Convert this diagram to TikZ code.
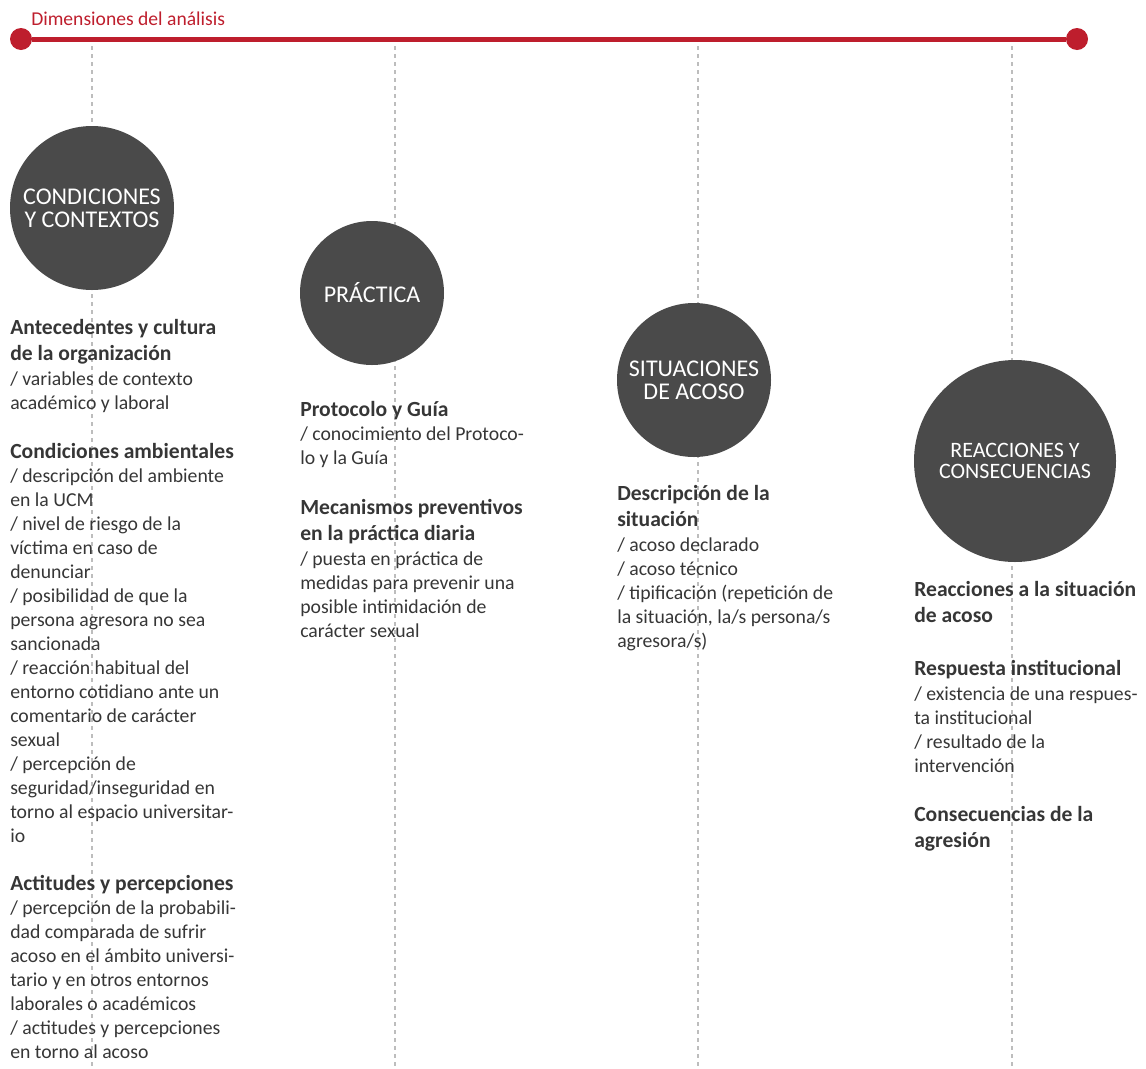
\documentclass[tikz,border=0pt]{standalone}
\usepackage{fontspec}
\setmainfont{Carlito}
\definecolor{acosored}{HTML}{BE1E2D}
\definecolor{circgray}{HTML}{4A4A4A}
\definecolor{bodytext}{HTML}{363636}
\definecolor{guidegray}{HTML}{BDBDBD}
\newcommand{\head}[1]{{\fontsize{16.2}{18}\selectfont\bfseries #1}}
\begin{document}
\begin{tikzpicture}[x=0.75pt, y=-0.75pt, font=\fontsize{14.8}{18}\selectfont,
    guide/.style={dash pattern=on 3pt off 3pt, line width=1.5pt, color=guidegray},
    dim/.style={circle, fill=circgray, text=white, align=center, inner sep=0pt,
                font=\fontsize{18}{17.25}\selectfont},
    block/.style={anchor=north west, align=left, inner sep=0pt, text=bodytext,
                  execute at begin node=\strut},
    enddot/.style={circle, fill=acosored, minimum size=16.5pt, inner sep=0pt}]
    % Units are pixels of the reference, y grows downwards
    \useasboundingbox (0,0) rectangle (1146,1068);

    % --- GUIDE LINES ---
    \foreach \x/\n in {92/gA, 395/gB, 698/gC, 1012/gD} {
        \coordinate (\n top) at (\x,46);
        \coordinate (\n bot) at (\x,1068);
        \draw[guide] (\n top) -- (\n bot);
    }

    % --- AXIS OF DIMENSIONS ---
    \node[enddot] (start) at (21,39) {};
    \node[enddot] (end) at (1077,39) {};
    \draw[acosored, line width=3.75pt] (start) -- (end);
    \node[anchor=base west, inner sep=0pt, text=acosored, font=\fontsize{14.7}{15}\selectfont]
        (title) at (31,25) {Dimensiones del análisis};

    % --- DIMENSIONS ---
    \node[dim, minimum size=123pt] (cond) at (92,208) {CONDICIONES\\Y CONTEXTOS};
    \node[dim, minimum size=108pt] (prac) at (372,293) {PRÁCTICA};
    \node[dim, minimum size=115.5pt] (sit) at (694,380) {SITUACIONES\\DE ACOSO};
    \node[dim, minimum size=151.5pt, font=\fontsize{16.5}{15.75}\selectfont]
        (reac) at (1015,461) {REACCIONES Y\\CONSECUENCIAS};

    % --- CONDICIONES Y CONTEXTOS ---
    \node[block] (ante) at (10,319.5) {\head{Antecedentes y cultura}\\[1.5pt]
        \head{de la organización}\\[0.75pt]
        / variables de contexto\\académico y laboral};
    \node[block] (ambi) at (10,443) {\head{Condiciones ambientales}\\
        / descripción del ambiente\\en la UCM\\
        / nivel de riesgo de la\\víctima en caso de\\denunciar\\
        / posibilidad de que la\\persona agresora no sea\\sancionada\\
        / reacción habitual del\\entorno cotidiano ante un\\comentario de carácter\\sexual\\
        / percepción de\\seguridad/inseguridad en\\torno al espacio universitar-\\io};
    \node[block] (acti) at (10,875.5) {\head{Actitudes y percepciones}\\
        / percepción de la probabili-\\dad comparada de sufrir\\acoso en el ámbito universi-\\
        tario y en otros entornos\\laborales o académicos\\
        / actitudes y percepciones\\en torno al acoso};

    % --- PRÁCTICA ---
    \node[block] (proto) at (300,401) {\head{Protocolo y Guía}\\
        / conocimiento del Protoco-\\lo y la Guía};
    \node[block] (meca) at (300,499) {\head{Mecanismos preventivos}\\[1.5pt]
        \head{en la práctica diaria}\\[0.75pt]
        / puesta en práctica de\\medidas para prevenir una\\posible intimidación de\\carácter sexual};

    % --- SITUACIONES DE ACOSO ---
    \node[block] (desc) at (617,485) {\head{Descripción de la}\\[1.5pt]
        \head{situación}\\[0.75pt]
        / acoso declarado\\/ acoso técnico\\
        / tipificación (repetición de\\la situación, la/s persona/s\\agresora/s)};

    % --- REACCIONES Y CONSECUENCIAS ---
    \node[block] (reacc) at (914,581) {\head{Reacciones a la situación}\\[1.5pt]
        \head{de acoso}};
    \node[block] (resp) at (914,660) {\head{Respuesta institucional}\\[0.75pt]
        / existencia de una respues-\\ta institucional\\
        / resultado de la\\intervención};
    \node[block] (conse) at (914,806) {\head{Consecuencias de la}\\[1.5pt]
        \head{agresión}};
\end{tikzpicture}
\end{document}
